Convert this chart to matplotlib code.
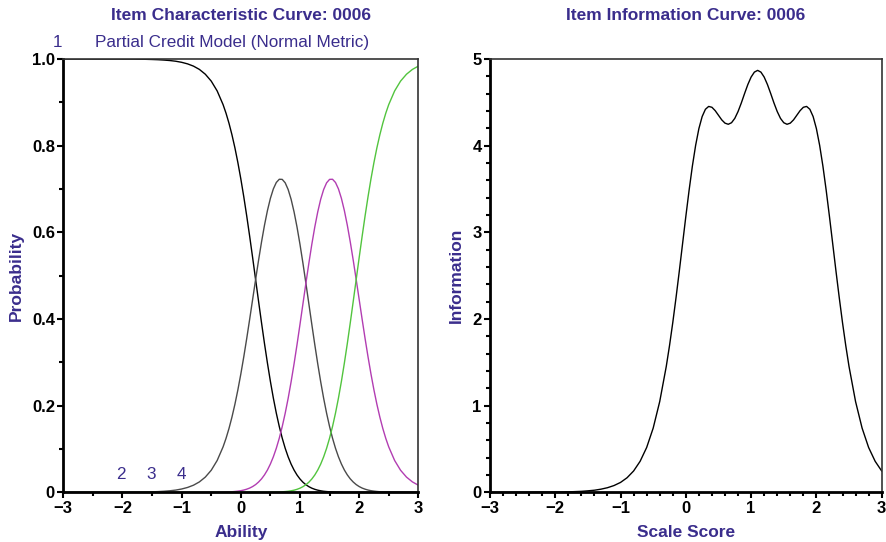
import matplotlib
matplotlib.use("Agg")
import matplotlib.pyplot as plt
from matplotlib.ticker import MultipleLocator, FixedLocator

plt.rcParams['font.family'] = ['Liberation Sans', 'DejaVu Sans']

# ability / scale score grid (step 0.1 in the tails, 0.05 where the curves bend)
theta = [-3.0, -2.9, -2.8, -2.7, -2.6, -2.5, -2.4, -2.3, -2.2, -2.1,
         -2.0, -1.9, -1.8, -1.7, -1.6, -1.5, -1.4, -1.3, -1.2, -1.1,
         -1.0, -0.9, -0.8, -0.7, -0.6, -0.5, -0.4, -0.3,
         -0.25, -0.2, -0.15, -0.1, -0.05, 0.0, 0.05, 0.1, 0.15, 0.2,
         0.25, 0.3, 0.35, 0.4, 0.45, 0.5, 0.55, 0.6, 0.65, 0.7,
         0.75, 0.8, 0.85, 0.9, 0.95, 1.0, 1.05, 1.1, 1.15, 1.2,
         1.25, 1.3, 1.35, 1.4, 1.45, 1.5, 1.55, 1.6, 1.65, 1.7,
         1.75, 1.8, 1.85, 1.9, 1.95, 2.0, 2.05, 2.1, 2.15, 2.2,
         2.25, 2.3, 2.35, 2.4, 2.45,
         2.5, 2.6, 2.7, 2.8, 2.9, 3.0]

# category probabilities
cat1 = [1.0, 1.0, 1.0, 1.0, 1.0, 0.9999, 0.9999, 0.9999, 0.9999, 0.9999,
        0.9998, 0.9998, 0.9997, 0.9995, 0.9993, 0.9989, 0.9984, 0.9976, 0.9965, 0.9949,
        0.9924, 0.9888, 0.9836, 0.9760, 0.9649, 0.9490, 0.9264, 0.8948,
        0.8749, 0.8518, 0.8252, 0.7951, 0.7611, 0.7234, 0.6821, 0.6376, 0.5904, 0.5413,
        0.4910, 0.4407, 0.3912, 0.3433, 0.2981, 0.2559, 0.2173, 0.1826, 0.1518, 0.1249,
        0.1016, 0.0818, 0.0651, 0.0513, 0.0399, 0.0307, 0.0233, 0.0175, 0.0130, 0.0095,
        0.0069, 0.0049, 0.0035, 0.0024, 0.0017, 0.0012, 0.0008, 0.0005, 0.0003, 0.0002,
        0.0001, 0.0001, 0.0001, 0.0, 0.0, 0.0, 0.0, 0.0, 0.0, 0.0,
        0.0, 0.0, 0.0, 0.0, 0.0,
        0.0, 0.0, 0.0, 0.0, 0.0, 0.0]
cat2 = [0.0, 0.0, 0.0, 0.0, 0.0, 0.0001, 0.0001, 0.0001, 0.0001, 0.0001,
        0.0002, 0.0002, 0.0003, 0.0005, 0.0007, 0.0011, 0.0016, 0.0024, 0.0035, 0.0051,
        0.0076, 0.0112, 0.0164, 0.0240, 0.0351, 0.0509, 0.0734, 0.1048,
        0.1245, 0.1473, 0.1735, 0.2031, 0.2363, 0.2729, 0.3127, 0.3552, 0.3998, 0.4454,
        0.4911, 0.5356, 0.5778, 0.6164, 0.6503, 0.6785, 0.7003, 0.7151, 0.7225, 0.7222,
        0.7143, 0.6988, 0.6763, 0.6471, 0.6121, 0.5723, 0.5287, 0.4825, 0.4350, 0.3875,
        0.3410, 0.2966, 0.2551, 0.2169, 0.1824, 0.1518, 0.1249, 0.1017, 0.0820, 0.0654,
        0.0515, 0.0402, 0.0310, 0.0237, 0.0178, 0.0133, 0.0098, 0.0072, 0.0052, 0.0037,
        0.0027, 0.0019, 0.0013, 0.0009, 0.0006,
        0.0004, 0.0002, 0.0001, 0.0, 0.0, 0.0]
cat3 = [0.0, 0.0, 0.0, 0.0, 0.0, 0.0, 0.0, 0.0, 0.0, 0.0,
        0.0, 0.0, 0.0, 0.0, 0.0, 0.0, 0.0, 0.0, 0.0, 0.0,
        0.0, 0.0, 0.0, 0.0, 0.0, 0.0001, 0.0002, 0.0004,
        0.0006, 0.0009, 0.0013, 0.0019, 0.0027, 0.0037, 0.0052, 0.0072, 0.0098, 0.0133,
        0.0178, 0.0237, 0.0310, 0.0402, 0.0515, 0.0654, 0.0820, 0.1017, 0.1249, 0.1518,
        0.1824, 0.2169, 0.2551, 0.2966, 0.3410, 0.3875, 0.4350, 0.4825, 0.5287, 0.5723,
        0.6121, 0.6471, 0.6763, 0.6988, 0.7143, 0.7222, 0.7225, 0.7151, 0.7003, 0.6785,
        0.6503, 0.6164, 0.5778, 0.5356, 0.4911, 0.4454, 0.3998, 0.3552, 0.3127, 0.2729,
        0.2363, 0.2031, 0.1735, 0.1473, 0.1245,
        0.1048, 0.0734, 0.0509, 0.0351, 0.0240, 0.0164]
cat4 = [0.0, 0.0, 0.0, 0.0, 0.0, 0.0, 0.0, 0.0, 0.0, 0.0,
        0.0, 0.0, 0.0, 0.0, 0.0, 0.0, 0.0, 0.0, 0.0, 0.0,
        0.0, 0.0, 0.0, 0.0, 0.0, 0.0, 0.0, 0.0,
        0.0, 0.0, 0.0, 0.0, 0.0, 0.0, 0.0, 0.0, 0.0, 0.0,
        0.0, 0.0, 0.0001, 0.0001, 0.0001, 0.0002, 0.0003, 0.0005, 0.0008, 0.0012,
        0.0017, 0.0024, 0.0035, 0.0049, 0.0069, 0.0095, 0.0130, 0.0175, 0.0233, 0.0307,
        0.0399, 0.0513, 0.0651, 0.0818, 0.1016, 0.1249, 0.1518, 0.1826, 0.2173, 0.2559,
        0.2981, 0.3433, 0.3912, 0.4407, 0.4910, 0.5413, 0.5904, 0.6376, 0.6821, 0.7234,
        0.7611, 0.7951, 0.8252, 0.8518, 0.8749,
        0.8948, 0.9264, 0.9490, 0.9649, 0.9760, 0.9836]

# item information
info = [0.0, 0.0, 0.0, 0.0, 0.001, 0.001, 0.001, 0.002, 0.002, 0.002,
        0.003, 0.003, 0.005, 0.008, 0.011, 0.017, 0.024, 0.036, 0.053, 0.078,
        0.114, 0.168, 0.246, 0.358, 0.517, 0.741, 1.047, 1.451,
        1.692, 1.958, 2.247, 2.552, 2.868, 3.183, 3.485, 3.763, 4.003, 4.197,
        4.336, 4.420, 4.453, 4.443, 4.404, 4.351, 4.298, 4.260, 4.247, 4.265,
        4.315, 4.394, 4.493, 4.602, 4.706, 4.792, 4.849, 4.869, 4.849, 4.792,
        4.706, 4.602, 4.493, 4.394, 4.315, 4.265, 4.247, 4.260, 4.298, 4.351,
        4.404, 4.443, 4.453, 4.420, 4.336, 4.197, 4.003, 3.763, 3.485, 3.183,
        2.868, 2.552, 2.247, 1.958, 1.692,
        1.451, 1.047, 0.741, 0.517, 0.358, 0.246]

cat_colors = ['#000000', '#4a4a4a', '#b23db2', '#52c43e']
txt_color = '#3a2d8c'

fig = plt.figure(figsize=(8.87, 5.42), dpi=100)
ax1 = fig.add_axes([0.0714, 0.0917, 0.4002, 0.7994])
ax2 = fig.add_axes([0.5524, 0.0917, 0.4416, 0.7994])


def style_axes(ax):
    for side in ['left', 'bottom']:
        ax.spines[side].set_linewidth(2.0)
        ax.spines[side].set_color('black')
    for side in ['top', 'right']:
        ax.spines[side].set_linewidth(1.2)
        ax.spines[side].set_color('#333333')
    ax.tick_params(which='major', direction='out', length=4, width=1.5,
                   labelsize=12, pad=2, top=False, right=False)
    ax.tick_params(which='minor', direction='out', length=3, width=1.5,
                   top=False, right=False)
    for lab in ax.get_xticklabels() + ax.get_yticklabels():
        lab.set_fontweight('bold')


# --- left: item characteristic curve ---
for vals, col in zip([cat1, cat2, cat3, cat4], cat_colors):
    ax1.plot(theta, vals, color=col, lw=1.0)
ax1.set_xlim(-3, 3)
ax1.set_ylim(0, 1)
ax1.xaxis.set_major_locator(MultipleLocator(1))
ax1.xaxis.set_minor_locator(MultipleLocator(0.5))
ax1.yaxis.set_major_locator(FixedLocator([0, 0.2, 0.4, 0.6, 0.8, 1.0]))
ax1.yaxis.set_minor_locator(MultipleLocator(0.1))
ax1.set_yticklabels(['0', '0.2', '0.4', '0.6', '0.8', '1.0'])
style_axes(ax1)
ax1.set_xlabel('Ability', color=txt_color, fontsize=12.5, fontweight='bold', labelpad=7)
ax1.set_ylabel('Probability', color=txt_color, fontsize=12.5, fontweight='bold', labelpad=6)
ax1.set_title('Item Characteristic Curve: 0006', color=txt_color, fontsize=12.5,
              fontweight='bold', pad=28)
fig.text(0.065, 0.922, '1', color=txt_color, fontsize=12.3, ha='center', va='center')
fig.text(0.262, 0.922, 'Partial Credit Model (Normal Metric)', color=txt_color,
         fontsize=12.3, ha='center', va='center')
for lab, xpos in zip(['2', '3', '4'], [-2.02, -1.52, -1.01]):
    ax1.text(xpos, 0.04, lab, color=txt_color, fontsize=12.3, ha='center', va='center')

# --- right: item information curve ---
ax2.plot(theta, info, color='black', lw=1.0)
ax2.set_xlim(-3, 3)
ax2.set_ylim(0, 5)
ax2.xaxis.set_major_locator(MultipleLocator(1))
ax2.xaxis.set_minor_locator(MultipleLocator(0.2))
ax2.yaxis.set_major_locator(MultipleLocator(1))
ax2.yaxis.set_minor_locator(MultipleLocator(0.2))
style_axes(ax2)
ax2.set_xlabel('Scale Score', color=txt_color, fontsize=12.5, fontweight='bold', labelpad=7)
ax2.set_ylabel('Information', color=txt_color, fontsize=12.5, fontweight='bold', labelpad=6)
ax2.set_title('Item Information Curve: 0006', color=txt_color, fontsize=12.5,
              fontweight='bold', pad=28)

fig.savefig('out.png', dpi=100)
